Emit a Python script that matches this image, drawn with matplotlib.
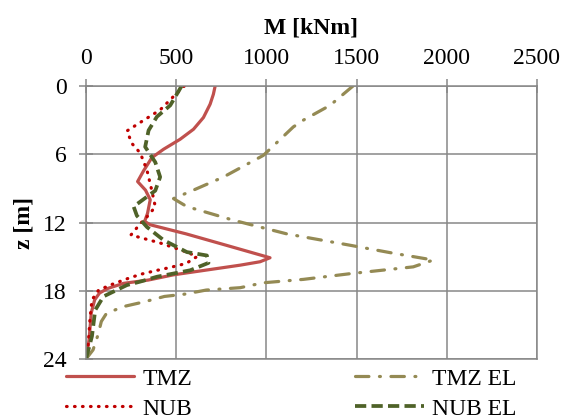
import matplotlib
matplotlib.use("Agg")
import matplotlib.pyplot as plt

# ---- data ----
tmz_z = [0, 0.73, 1.6, 2.77, 3.8, 4.68, 5.56, 6.3, 7.46, 8.4, 9.16, 10.0, 11.2, 11.9, 12.2,
         13.0, 14.0, 15.1, 15.45, 15.75, 16.6, 17.06, 17.35, 17.8, 18.2, 18.8, 19.95,
         22.3, 24.0]
tmz_m = [716, 706, 688, 651, 596, 522, 430, 365, 319, 286, 330, 356, 341, 325, 356,
         555, 777, 1020, 965, 855, 485, 345, 208, 120, 75, 48, 29,
         17, 0]

nub_z = [0, 1.0, 2.1, 3.2, 3.95, 5.06, 5.9, 7.4, 9.2, 10.6, 11.3, 12.1, 13.1,
         13.8, 14.6, 15.0, 15.6, 15.95, 16.24, 16.56, 17.0, 17.44, 17.94, 18.8,
         20.5, 22.6, 24.0]
nub_m = [545, 480, 411, 301, 227, 255, 301, 338, 365, 384, 350, 301, 249,
         411, 559, 615, 555, 467, 384, 301, 218, 144, 70, 33, 22, 13, 0]

tmzel_z = [0, 1.7, 3.0, 3.6, 6.1, 8.0, 9.15, 9.9, 10.6, 11.8, 13.0, 14.0, 14.7,
           15.3, 15.9, 16.5, 17.0, 17.3, 17.73, 17.94, 18.3, 18.5, 18.97, 19.4,
           20.0, 20.7, 21.9, 23.2, 24.0]
tmzel_m = [1480, 1353, 1205, 1149, 983, 762, 596, 485, 559, 817, 1113, 1464, 1703,
           1925, 1814, 1464, 1205, 983, 855, 666, 546, 435, 324, 205,
           113, 85, 66, 39, 0]

nubel_z = [0, 1.7, 2.7, 3.9, 5.35, 6.7, 8.0, 9.2, 10.6, 11.4, 12.4, 13.55, 14.6,
           14.9, 15.55, 16.2, 16.77, 17.2, 17.5, 18.5, 19.7, 22.0, 24.0]
nubel_m = [530, 467, 393, 347, 328, 384, 411, 384, 264, 282, 338, 430, 559,
           670, 679, 578, 393, 300, 227, 97, 51, 33, 0]

x_ticks = [0, 500, 1000, 1500, 2000, 2500]
y_ticks = [0, 6, 12, 18, 24]
labels = ["TMZ", "NUB", "TMZ EL", "NUB EL"]

# ---- style ----
plt.rcParams['font.family'] = ['Liberation Serif', 'DejaVu Serif']
plt.rcParams['font.size'] = 17
grid_c = '#878787'

fig = plt.figure(figsize=(5.64, 4.19), dpi=100)
ax = fig.add_axes([86/564, 60/419, 451/564, 273/419])

lw = 2.3
l1, = ax.plot(tmz_m, tmz_z, color='#C0504D', lw=lw, solid_capstyle='round',
              solid_joinstyle='round', label=labels[0])
l2, = ax.plot(nub_m, nub_z, color='#C00000', lw=lw, linestyle=(0, (0.2, 2.3)),
              dash_capstyle='round', label=labels[1])
l3, = ax.plot(tmzel_m, tmzel_z, color='#948A54', lw=lw,
              linestyle=(0, (4.2, 3.3, 0.3, 3.3)), dash_capstyle='round', label=labels[2])
l4, = ax.plot(nubel_m, nubel_z, color='#4F6228', lw=lw + 0.4,
              linestyle=(0, (3.0, 1.4)), label=labels[3])

ax.set_xlim(0, 2500)
ax.set_ylim(24, 0)
ax.set_xticks(x_ticks)
ax.set_yticks(y_ticks)
ax.xaxis.set_ticks_position('top')
ax.xaxis.set_label_position('top')
ax.tick_params(axis='x', direction='inout', length=10, width=1.1, color=grid_c, pad=7)
ax.tick_params(axis='y', direction='inout', length=10, width=1.1, color=grid_c, pad=9)
ax.grid(True, color=grid_c, lw=1.1)
ax.set_axisbelow(True)
for s in ax.spines.values():
    s.set_color(grid_c)
    s.set_linewidth(1.1)

ax.set_xlabel('M [kNm]', fontweight='bold', labelpad=11)
ax.set_ylabel('z [m]', fontweight='bold', labelpad=6)

fig.legend(handles=[l1, l2, l3, l4], labels=labels, ncol=2, frameon=False,
           loc='upper left', bbox_to_anchor=(66/564, 1 - 368/419),
           handlelength=2.9, handletextpad=0.35, columnspacing=6.9,
           labelspacing=0.36, borderpad=0, borderaxespad=0, fontsize=17)

fig.savefig('out.png', dpi=100)
